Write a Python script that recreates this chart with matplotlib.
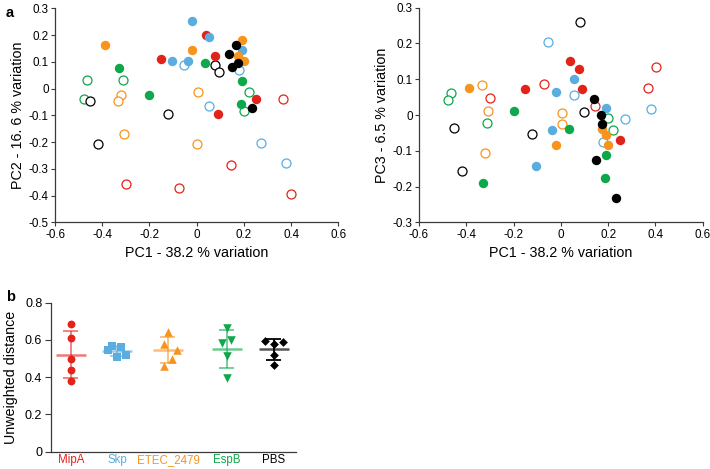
import matplotlib

matplotlib.use("Agg")
import matplotlib.pyplot as plt
import numpy as np

plt.rcParams["font.family"] = ["Liberation Sans", "DejaVu Sans"]

# ---- group colours --------------------------------------------------------
RED = "#E2231A"
BLUE = "#59ADDF"
ORANGE = "#F7941D"
GREEN = "#0CA84A"
BLACK = "#000000"
COLORS = [RED, BLUE, ORANGE, GREEN, BLACK]

# ---- panel a: PCoA coordinates (filled = one group state, open = other) ----
red_f_pc1 = [0.040, -0.152, 0.078, 0.250, 0.090]
red_f_pc2 = [0.199, 0.109, 0.121, -0.039, -0.096]
red_f_pc3 = [0.150, 0.073, 0.1275, -0.069, 0.073]

blue_f_pc1 = [-0.020, 0.054, -0.105, -0.037, 0.192]
blue_f_pc2 = [0.2525, 0.193, 0.1025, 0.1025, 0.144]
blue_f_pc3 = [0.064, 0.101, -0.143, -0.042, 0.021]

orange_f_pc1 = [-0.387, -0.020, 0.193, 0.176, 0.201]
orange_f_pc2 = [0.1625, 0.144, 0.1825, 0.121, 0.105]
orange_f_pc3 = [0.075, -0.084, -0.055, -0.040, -0.084]

green_f_pc1 = [0.035, -0.330, 0.190, -0.200, 0.187]
green_f_pc2 = [0.096, 0.076, 0.0275, -0.0225, -0.056]
green_f_pc3 = [-0.039, -0.190, -0.112, 0.012, -0.176]

black_f_pc1 = [0.168, 0.139, 0.176, 0.148, 0.233]
black_f_pc2 = [0.164, 0.131, 0.096, 0.080, -0.074]
black_f_pc3 = [0.000, 0.044, -0.025, -0.125, -0.231]

red_o_pc1 = [0.367, 0.144, -0.299, -0.073, 0.401]
red_o_pc2 = [-0.039, -0.285, -0.355, -0.3725, -0.3925]
red_o_pc3 = [0.075, 0.025, 0.049, 0.087, 0.134]

blue_o_pc1 = [-0.054, 0.178, 0.054, 0.272, 0.380]
blue_o_pc2 = [0.089, 0.070, -0.064, -0.204, -0.276]
blue_o_pc3 = [0.204, -0.076, 0.055, -0.012, 0.017]

orange_o_pc1 = [-0.320, -0.333, 0.006, -0.306, 0.003]
orange_o_pc2 = [-0.025, -0.0475, -0.014, -0.169, -0.205]
orange_o_pc3 = [-0.107, 0.083, 0.0066, 0.012, -0.026]

green_o_pc1 = [-0.466, -0.311, -0.476, 0.220, 0.201]
green_o_pc2 = [0.0325, 0.0325, -0.039, -0.0125, -0.085]
green_o_pc3 = [0.063, -0.0225, 0.042, -0.041, -0.008]

black_o_pc1 = [0.079, 0.096, -0.452, -0.123, -0.420]
black_o_pc2 = [0.090, 0.0625, -0.045, -0.096, -0.205]
black_o_pc3 = [0.260, 0.009, -0.036, -0.054, -0.157]

# ---- panel b: unweighted distances ----------------------------------------
groups = ["MipA", "Skp", "ETEC_2479", "EspB", "PBS"]
mipa_dist = [0.688, 0.608, 0.496, 0.437, 0.377]
skp_dist = [0.544, 0.569, 0.560, 0.509, 0.521]
etec_dist = [0.642, 0.578, 0.546, 0.498, 0.462]
espb_dist = [0.663, 0.583, 0.597, 0.512, 0.397]
pbs_dist = [0.594, 0.578, 0.590, 0.519, 0.464]

# layout of the scatter columns (axis runs 0..245)
col_pos = [20, 66.3, 117.1, 176, 223]
jitter = [
    [0, 0, 0, 0, 0],
    [-9.3, -5, 4, -0.3, 9],
    [0, -4, 9.5, 4.5, -4],
    [0, -5, 4, 0, 0],
    [-9.4, 0, 9, 0, 0],
]
markers = ["o", "s", "^", "v", "D"]
msizes = [32, 36, 38, 38, 20]

SPINE = "#3a3a3a"


def style_axes(ax, labelsize):
    for side in ("top", "right"):
        ax.spines[side].set_visible(False)
    for side in ("left", "bottom"):
        ax.spines[side].set_color(SPINE)
        ax.spines[side].set_linewidth(0.9)
    ax.tick_params(direction="out", length=3, width=0.8, color=SPINE,
                   labelsize=labelsize, pad=1.5)


def fmt(v):
    v = round(v, 1)
    return "0" if v == 0 else f"{v:g}"


fig = plt.figure(figsize=(7.10, 4.69), dpi=100)

ax1 = fig.add_axes([0.0775, 0.5256, 0.399, 0.4567])
ax2 = fig.add_axes([0.5901, 0.5256, 0.3996, 0.4580])
axb = fig.add_axes([0.0714, 0.0370, 0.3455, 0.3176])

filled = [
    (red_f_pc1, red_f_pc2, red_f_pc3),
    (blue_f_pc1, blue_f_pc2, blue_f_pc3),
    (orange_f_pc1, orange_f_pc2, orange_f_pc3),
    (green_f_pc1, green_f_pc2, green_f_pc3),
    (black_f_pc1, black_f_pc2, black_f_pc3),
]
hollow = [
    (red_o_pc1, red_o_pc2, red_o_pc3),
    (blue_o_pc1, blue_o_pc2, blue_o_pc3),
    (orange_o_pc1, orange_o_pc2, orange_o_pc3),
    (green_o_pc1, green_o_pc2, green_o_pc3),
    (black_o_pc1, black_o_pc2, black_o_pc3),
]

for ax, k, ylim, ylab in (
    (ax1, 1, (-0.5, 0.3), "PC2 - 16. 6 % variation"),
    (ax2, 2, (-0.3, 0.3), "PC3 - 6.5 % variation"),
):
    for (pts, c) in zip(hollow, COLORS):
        ax.scatter(pts[0], pts[k], s=42, facecolors="white", edgecolors=c,
                   linewidths=0.9, zorder=2)
    for (pts, c) in zip(filled, COLORS):
        ax.scatter(pts[0], pts[k], s=46, color=c, linewidths=0, zorder=3)
    ax.set_xlim(-0.6, 0.6)
    ax.set_ylim(*ylim)
    xt = np.arange(-0.6, 0.61, 0.2)
    yt = np.arange(ylim[0], ylim[1] + 0.01, 0.1)
    ax.set_xticks(xt)
    ax.set_xticklabels([fmt(v) for v in xt])
    ax.set_yticks(yt)
    ax.set_yticklabels([fmt(v) for v in yt])
    ax.set_xlabel("PC1 - 38.2 % variation", fontsize=10.3, labelpad=4)
    ax.set_ylabel(ylab, fontsize=10.3, labelpad=3)
    style_axes(ax, 8.4)

# ---- panel b --------------------------------------------------------------
dists = [mipa_dist, skp_dist, etec_dist, espb_dist, pbs_dist]
mean_cols = [RED, BLUE, ORANGE, GREEN, "#555555"]
for i, (vals, c) in enumerate(zip(dists, COLORS)):
    vals = np.asarray(vals)
    x0 = col_pos[i]
    xs = x0 + np.asarray(jitter[i])
    m = vals.mean()
    sd = vals.std(ddof=1)
    alpha = 0.6 if i < 4 else 1.0
    axb.hlines(m, x0 - 15, x0 + 15, color=mean_cols[i], lw=1.8,
               alpha=alpha, zorder=2)
    axb.vlines(x0, m - sd, m + sd, color=c, lw=1.3, alpha=alpha, zorder=2)
    axb.hlines([m - sd, m + sd], x0 - 7.5, x0 + 7.5, color=c, lw=1.3,
               alpha=alpha, zorder=2)
    axb.scatter(xs, vals, s=msizes[i], marker=markers[i], color=c,
                linewidths=0, zorder=3)

axb.set_xlim(0, 245)
axb.set_ylim(0, 0.8)
axb.set_yticks([0, 0.2, 0.4, 0.6, 0.8])
axb.set_yticklabels(["0", "0.2", "0.4", "0.6", "0.8"])
axb.set_xticks(col_pos)
axb.set_xticklabels(groups)
for lab, c in zip(axb.get_xticklabels(), COLORS):
    lab.set_color(c)
style_axes(axb, 9)
axb.tick_params(axis="x", length=0, labelsize=8.3, pad=1.5)
axb.tick_params(axis="y", length=4, pad=2)
axb.set_ylabel("Unweighted distance", fontsize=10.3, labelpad=5)

fig.text(0.008, 0.972, "a", fontsize=10.5, fontweight="bold", va="center")
fig.text(0.008, 0.366, "b", fontsize=10.5, fontweight="bold", va="center")

fig.savefig("out.png", dpi=100)
